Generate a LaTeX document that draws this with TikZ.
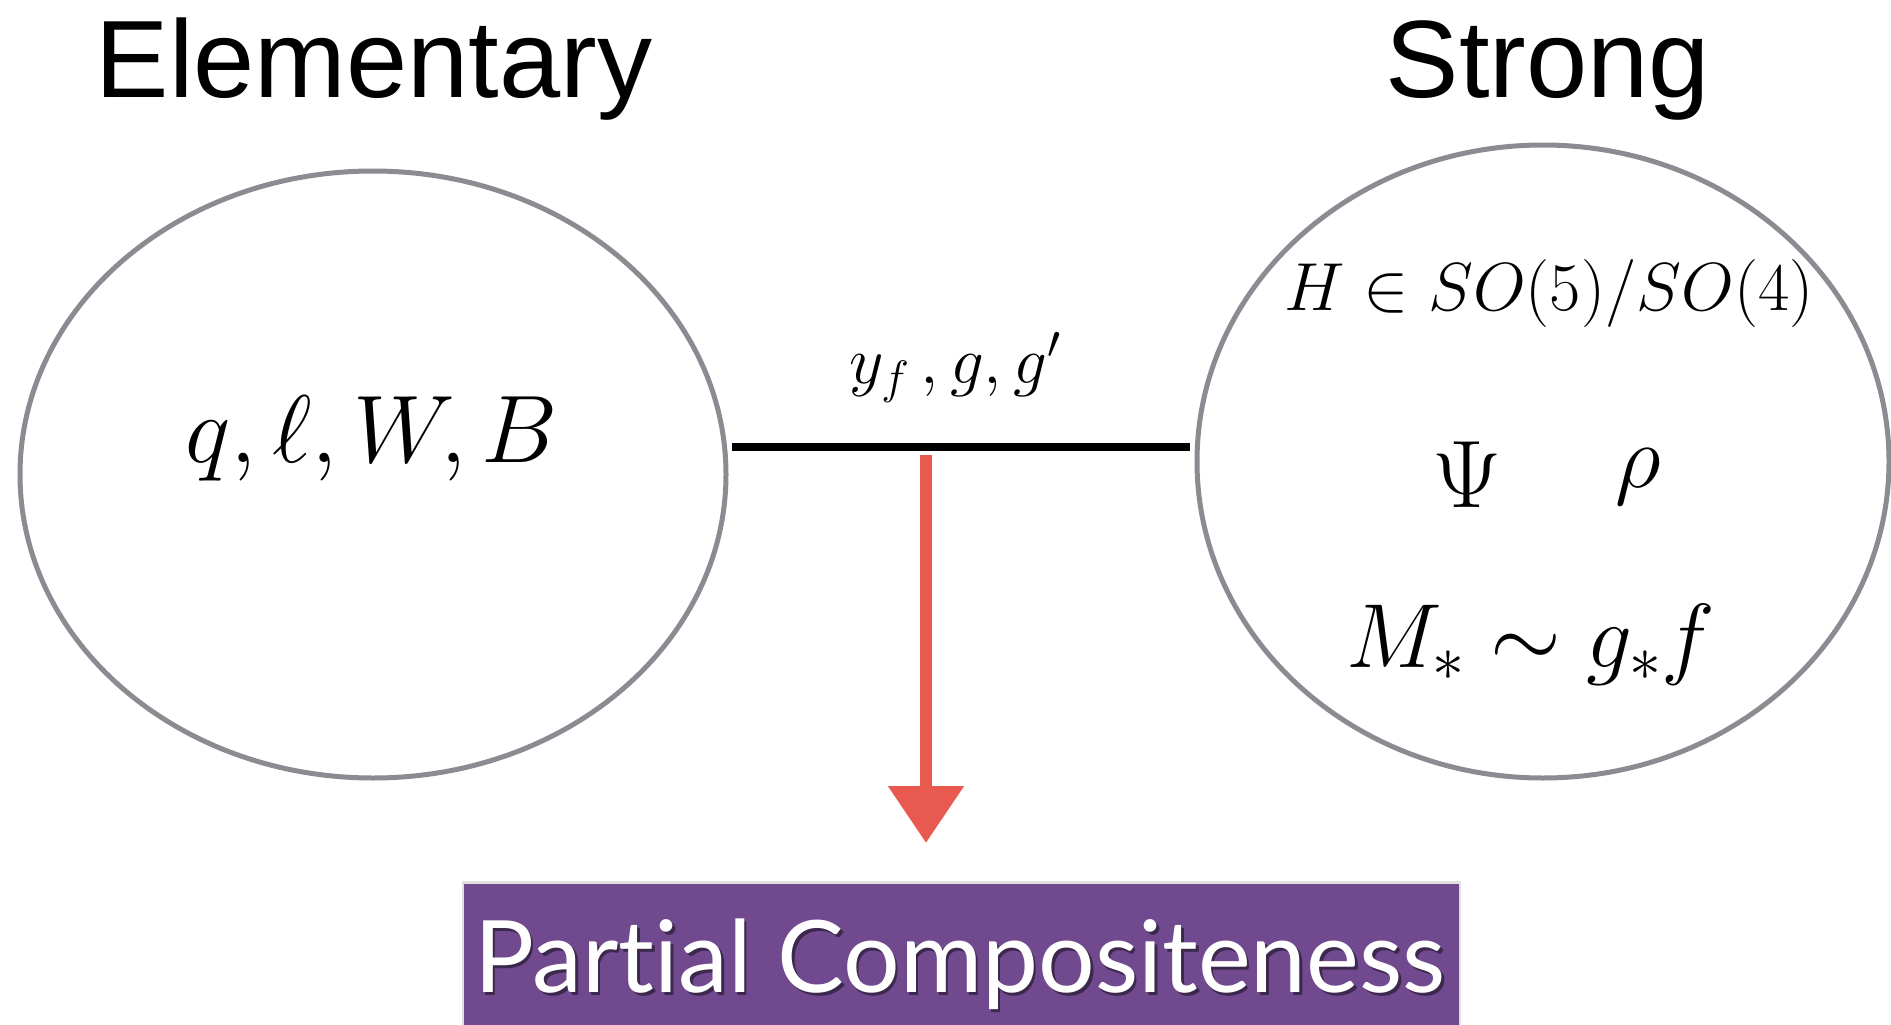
\RequirePackage{fix-cm}
\documentclass[tikz,border=0pt]{standalone}
\usepackage{fontspec}
\usepackage{pdfrender}
\newfontfamily\titlefont{Liberation Sans}
\newfontfamily\boxfont[Ligatures={NoCommon}]{Lato}
\usetikzlibrary{shapes.geometric,arrows.meta}
\definecolor{ringgray}{RGB}{138,140,145}
\definecolor{boxpurple}{RGB}{112,73,142}
\definecolor{chalkred}{RGB}{232,90,80}
\newcommand{\heavymath}[1]{\textpdfrender{TextRenderingMode=FillStroke,LineWidth=1.1pt}{#1}}
\tikzset{
  ring/.style={draw=ringgray, line width=5pt, ellipse, inner sep=0pt, outer sep=0pt},
  title/.style={anchor=base, inner sep=0pt, font=\titlefont\fontsize{110}{120}\selectfont},
  bigmath/.style={anchor=base, inner sep=0pt},
  linkline/.style={line width=7.5pt, black},
  chalkarrow/.style={draw=chalkred, line width=12pt, -{Triangle[width=73pt,length=57pt]}},
}
\begin{document}
\begin{tikzpicture}[x=1pt,y=-1pt]
\useasboundingbox (0,0) rectangle (1891,1025);
% titles
\node[title] (telem) at (374,98) {Elementary};
\node[title] (tstrong) at (1548,98) {Strong};
% ellipses
\node[ring, minimum width=706pt, minimum height=607pt] (elem) at (373,474.5) {};
\node[ring, minimum width=692pt, minimum height=633pt] (strong) at (1543,461.5) {};
% contents
\node[bigmath] (elemtxt) at (372,462) {\fontsize{96}{100}\selectfont \heavymath{$q,\ell,W,B$}};
\node[bigmath] (htxt) at (1549,310) {\fontsize{68}{80}\selectfont \heavymath{$H\in SO(5)/SO(4)$}};
\node[bigmath] (psitxt) at (1467,507) {\fontsize{96}{100}\selectfont \heavymath{$\Psi$}};
\node[bigmath] (rhotxt) at (1638,487) {\fontsize{90}{96}\selectfont \heavymath{$\rho$}};
\node[bigmath] (mtxt) at (1531,667) {\fontsize{91}{96}\selectfont \heavymath{$M_*\sim g_*f$}};
% link
\coordinate (lstart) at (732,447);
\coordinate (lend) at (1190,447);
\draw[linkline] (lstart) -- (lend);
\node[bigmath] (coup) at (955,383) {\fontsize{67}{72}\selectfont \heavymath{$y_f\,,g,g'$}};
% purple box
\fill[black!12] (462,881) rectangle (1461,1025);
\node[fill=boxpurple, minimum width=995pt, minimum height=141pt, anchor=north west, inner sep=0pt, outer sep=0pt] (pcbox) at (464,884) {};
\node[anchor=base, inner sep=0pt, text=black, opacity=0.45] (pcshadow) at (962.5,995) {\boxfont\fontsize{100}{110}\selectfont Partial Compositeness};
\node[anchor=base, inner sep=0pt, text=white] (pctxt) at (960,992) {\boxfont\fontsize{100}{110}\selectfont Partial Compositeness};
% arrow
\coordinate (astart) at (926,455);
\coordinate (aend) at (926,843);
\draw[chalkarrow] (astart) -- (aend);
\end{tikzpicture}
\end{document}
